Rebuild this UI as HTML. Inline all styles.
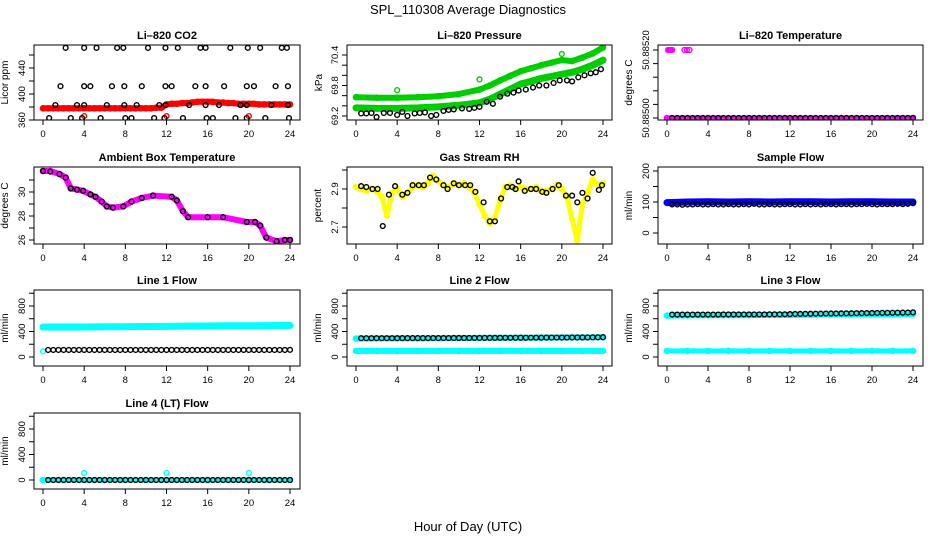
<!DOCTYPE html>
<html><head><meta charset="utf-8">
<style>
html,body{margin:0;padding:0;background:#fff;}
svg{display:block;font-family:"Liberation Sans",sans-serif;}
</style></head>
<body>
<svg id="chart" width="936" height="540" viewBox="0 0 936 540" xmlns="http://www.w3.org/2000/svg">
<rect x="0" y="0" width="936" height="540" fill="#fff"/>
<text x="468" y="14" text-anchor="middle" font-size="13">SPL_110308  Average Diagnostics</text>
<text x="468" y="531" text-anchor="middle" font-size="13">Hour of Day (UTC)</text>
</svg>
<script>
// ---------- data ----------
const xTicks=[0,4,8,12,16,20,24];
const halfHours=[0,0.5,1,1.5,2,2.5,3,3.5,4,4.5,5,5.5,6,6.5,7,7.5,8,8.5,9,9.5,10,10.5,11,11.5,12,12.5,13,13.5,14,14.5,15,15.5,16,16.5,17,17.5,18,18.5,19,19.5,20,20.5,21,21.5,22,22.5,23,23.5,24];
const circHours=[0.5,1,1.5,2,2.5,3,3.5,4,4.5,5,5.5,6,6.5,7,7.5,8,8.5,9,9.5,10,10.5,11,11.5,12,12.5,13,13.5,14,14.5,15,15.5,16,16.5,17,17.5,18,18.5,19,19.5,20,20.5,21,21.5,22,22.5,23,23.5,24];
const twoHours=[0,2,4,6,8,10,12,14,16,18,20,22,24];

// CO2
const co2Levels=[471,412,383,363];
const co2Hours0=[2.2,4.0,5.2,7.2,7.8,10.2,11.9,13.1,15.3,15.8,18.2,19.9,21.1,23.2,23.7];
const co2Hours1=[1.7,4.0,4.6,6.7,7.9,9.6,11.9,12.5,14.8,15.8,17.6,19.8,20.5,22.6,23.8];
const co2Hours2=[1.2,3.3,4.0,6.2,7.9,9.1,11.3,11.9,14.2,15.8,17.1,19.2,19.8,22.2,23.8];
const co2Hours3=[0.6,2.7,3.8,5.6,8.0,8.6,10.8,11.8,13.6,15.9,16.5,18.7,19.8,21.6,23.9];
const co2Red=[378,378,378,378,378,378,378,378,378,378,378,378,378,378,378,378,378,378,378,378,378,378,379,379,384,385,385,386,386,387,388,388,388,388,387,387,386,386,385,385,385,385,384,384,384,384,384,384,384];
const co2RedOutHours=[4,12,20];
const co2RedOutVals=[366,366,366];

// Pressure
const presHours=[0,2,4,6,8,10,12,13,14,15,16,17,18,19,20,21,22,23,24];
const presUpper=[69.57,69.56,69.56,69.57,69.59,69.63,69.72,69.8,69.9,69.99,70.08,70.14,70.2,70.25,70.3,70.28,70.35,70.43,70.55];
const presLower=[69.36,69.35,69.35,69.36,69.38,69.41,69.46,69.53,69.63,69.73,69.83,69.88,69.94,69.98,70.02,70.06,70.12,70.2,70.3];
const presBlackHours=[0.5,1,1.5,2,2.7,3.3,4,4.5,5,5.7,6.2,6.7,7.3,7.8,8.5,9,9.5,10.3,11,11.5,12,12.7,13.3,14,14.7,15.3,15.8,16.5,17.2,17.8,18.5,19.2,19.8,20.5,21,21.6,22.2,22.8,23.3,23.8];
const presBlack=[69.25,69.25,69.26,69.18,69.26,69.26,69.22,69.28,69.2,69.25,69.26,69.27,69.2,69.22,69.3,69.32,69.33,69.35,69.34,69.36,69.38,69.48,69.44,69.58,69.64,69.66,69.7,69.72,69.76,69.8,69.8,69.85,69.9,69.9,69.88,69.96,70.0,70.04,70.06,70.12];
const presGreenOutHours=[4,12,20];
const presGreenOutVals=[69.71,69.92,70.42];

// Li-820 temperature
const tempBase=[50.885,50.885,50.885,50.885,50.885,50.885,50.885,50.885,50.885,50.885,50.885,50.885,50.885,50.885,50.885,50.885,50.885,50.885,50.885,50.885,50.885,50.885,50.885,50.885,50.885,50.885,50.885,50.885,50.885,50.885,50.885,50.885,50.885,50.885,50.885,50.885,50.885,50.885,50.885,50.885,50.885,50.885,50.885,50.885,50.885,50.885,50.885,50.885];
const tempOutHours=[0.1,0.2,0.3,0.4,0.5,1.7,1.95,2.2];
const tempOutVals=[50.8852,50.8852,50.8852,50.8852,50.8852,50.8852,50.8852,50.8852];

// Ambient box temperature
const ambHours=[0,0.7,1.6,2.2,2.7,3.3,3.9,4.6,5.1,5.7,6.2,6.8,7.8,8.6,9.6,10.7,12.5,13.0,13.6,14.1,16.0,17.5,19.8,20.6,21.1,21.7,22.7,23.5,24];
const ambVals=[31.75,31.75,31.5,31.2,30.3,30.2,30.1,29.8,29.6,29.2,28.8,28.7,28.8,29.2,29.5,29.7,29.6,29.3,28.4,27.9,27.9,27.9,27.5,27.5,27.2,26.2,25.9,26.0,26.0];
const ambBlack=[31.75,31.7,31.5,31.2,30.3,30.2,30.1,29.8,29.6,29.2,28.8,28.7,28.8,29.2,29.5,29.7,29.6,29.3,28.4,27.9,27.9,27.9,27.5,27.5,27.2,26.2,25.9,26.0,26.0];

// Gas stream RH
const rhYellow=[2.91,2.9,2.89,2.9,2.89,2.86,2.76,2.88,2.9,2.86,2.88,2.91,2.92,2.91,2.93,2.97,2.94,2.92,2.91,2.93,2.92,2.93,2.91,2.88,2.82,2.76,2.72,2.75,2.84,2.91,2.92,2.9,2.91,2.9,2.9,2.91,2.89,2.89,2.9,2.92,2.9,2.86,2.74,2.63,2.82,2.88,2.95,2.92,2.93];
const rhBlackHours=[0.5,1.0,1.6,2.1,2.6,3.2,3.8,4.5,5.0,5.5,6.1,6.6,7.2,7.8,8.5,8.9,9.5,10.0,10.6,11.1,11.6,12.4,13.0,13.5,14.1,14.7,15.2,15.5,15.8,16.4,17.0,17.5,18.1,18.5,19.1,19.7,20.4,21.0,21.5,22.0,22.5,23.0,23.6,23.9];
const rhBlack=[2.915,2.91,2.9,2.9,2.705,2.87,2.915,2.87,2.88,2.92,2.92,2.92,2.96,2.95,2.92,2.9,2.93,2.92,2.92,2.92,2.885,2.83,2.73,2.73,2.85,2.91,2.91,2.9,2.94,2.89,2.9,2.9,2.885,2.88,2.9,2.92,2.865,2.865,2.83,2.88,2.85,2.985,2.895,2.92];

// Sample flow
const sampleBlue=[98,100,101,100,101,100,101,101,100,101,101,100,100];
const sampleBlack=[92,92,91,92,92,93,92,92,93,92,92,93,92,92,93,92,94,92,92,93,92,92,93,93,92,92,93,92,93,92,93,93,92,93,93,92,93,93,94,93,92,93,93,93,94,93,94,96];

// Line flows
const line1Cyan=[470,470,470,475,475,478,480,485,487,490,490,493,495];
const line1Black=[110,110,110,110,110,110,110,110,110,110,110,110,110,110,110,110,110,110,110,110,110,110,110,110,110,110,110,110,110,110,110,110,110,110,110,110,110,110,110,110,110,110,110,110,110,110,110,112];
const line2CyanHi=[290,292,293,295,296,298,300,301,303,305,306,308,310];
const line2CyanLo=[95,95,95,95,95,95,95,95,95,95,95,95,95];
const line2Black=[295,295,295,295,295,295,295,295,296,296,296,296,296,296,297,297,297,297,298,298,298,298,299,299,300,300,300,300,301,301,302,302,302,303,303,303,304,304,305,305,305,306,306,307,307,308,308,310];
const line3CyanHi=[650,652,655,656,658,660,661,663,666,668,670,672,675];
const line3CyanLo=[95,95,95,95,95,95,95,95,95,95,95,95,95];
const line3Black=[665,665,665,665,665,666,666,666,666,666,667,667,667,667,668,668,668,668,668,669,669,669,670,672,675,676,677,678,679,680,681,682,683,684,685,686,687,688,689,690,691,692,693,694,695,696,697,700];
const line4Cyan=[0,0,0,0,0,0,0,0,0,0,0,0,0];
const line4Black=[0,0,0,0,0,0,0,0,0,0,0,0,0,0,0,0,0,0,0,0,0,0,0,0,0,0,0,0,0,0,0,0,0,0,0,0,0,0,0,0,0,0,0,0,0,0,0,0];
const line4OutHours=[4,12,20];
const line4OutVals=[110,110,110];

// ---------- drawing ----------
const NS='http://www.w3.org/2000/svg';
const svg=document.getElementById('chart');
function el(tag,attrs,parent){const e=document.createElementNS(NS,tag);for(const k in attrs)e.setAttribute(k,attrs[k]);(parent||svg).appendChild(e);return e;}
function lin(v1,p1,v2,p2){return v=>p1+(v-v1)*(p2-p1)/(v2-v1);}

const COLS=[{l:34,r:300,x0:43,x24:290},{l:347,r:612,x0:356,x24:603},{l:658,r:923,x0:667,x24:913}];
const ROWS=[{t:45,b:120},{t:167,b:244},{t:290,b:366},{t:413,b:489}];

function panel(name,title,ylab,col,row,yv1,yp1,yv2,yp2,yTicks,yLabels,fmt){
  const c=COLS[col],r=ROWS[row];
  const g=el('g',{});
  
  
  const X=lin(0,c.x0,24,c.x24), Y=lin(yv1,yp1,yv2,yp2);
  const tt=el('text',{x:(c.l+c.r)/2,y:r.t-6,'text-anchor':'middle','font-size':'11','font-weight':'bold'},g);
  tt.textContent=title;
  
  
  const plot=el('g',{},g);
  
  
  const xa=el('g',{},g);
  
  
  el('line',{x1:X(xTicks[0]),x2:X(xTicks[xTicks.length-1]),y1:r.b,y2:r.b,stroke:'#000'},xa);
  xTicks.forEach(v=>{
    el('line',{x1:X(v),x2:X(v),y1:r.b,y2:r.b+5,stroke:'#000'},xa);
    const t=el('text',{x:X(v),y:r.b+17,'text-anchor':'middle','font-size':'9.5'},xa);
    t.textContent=v;
    
    
  });
  const ya=el('g',{},g);
  
  
  yTicks.forEach(v=>{
    el('line',{x1:c.l-5,x2:c.l,y1:Y(v),y2:Y(v),stroke:'#000'},ya);
  });
  yLabels.forEach(v=>{
    const yy=Y(v), xx=c.l-9;
    const t=el('text',{x:xx,y:yy,'text-anchor':'middle','font-size':'9.5',transform:`rotate(-90 ${xx} ${yy})`},ya);
    t.textContent=fmt?fmt(v):v;
    
    
  });
  const lx=c.l-(ylab.off||24), ly=(r.t+r.b)/2;
  const yt=el('text',{x:lx,y:ly,'text-anchor':'middle','font-size':'10',transform:`rotate(-90 ${lx} ${ly})`},g);
  yt.textContent=ylab.text;
  
  
  const clip='clip-'+name;
  const cp=el('clipPath',{id:clip},g);
  el('rect',{x:c.l,y:r.t,width:c.r-c.l,height:r.b-r.t},cp);
  const data=el('g',{'clip-path':`url(#${clip})`},plot);
  const box=el('rect',{x:c.l,y:r.t,width:c.r-c.l,height:r.b-r.t,fill:'none',stroke:'#000','stroke-width':'1'},g);
  
  
  return {X,Y,g:data};
}
function band(p,hours,vals,color,w,nm){
  const d=hours.map((h,i)=>(i?'L':'M')+p.X(h).toFixed(1)+' '+p.Y(vals[i]).toFixed(1)).join(' ');
  const e=el('path',{d,fill:'none',stroke:color,'stroke-width':w,'stroke-linejoin':'round','stroke-linecap':'round'},p.g);
  
  
  hours.forEach((h,i)=>{
    const c=el('circle',{cx:p.X(h),cy:p.Y(vals[i]),r:2.6,fill:'none',stroke:color,'stroke-width':1.4},p.g);
    
    
  });
}
function pts(p,hours,vals,color,nm,rad){
  hours.forEach((h,i)=>{
    const c=el('circle',{cx:p.X(h),cy:p.Y(vals[i]),r:rad||2.4,fill:'none',stroke:color,'stroke-width':1.4},p.g);
    
    
  });
}

// CO2
let p=panel('co2','Li\u2013820 CO2',{text:'Licor ppm',off:26},0,0,360,120,400,94,[360,380,400,420,440,460],[360,400,440]);
band(p,halfHours,co2Red,'#ff0000',6,'co2-red-series');
pts(p,co2RedOutHours,co2RedOutVals,'#ff0000','co2-red-outlier');
pts(p,co2Hours0,co2Hours0.map(()=>co2Levels[0]),'#000','co2-black-point');
pts(p,co2Hours1,co2Hours1.map(()=>co2Levels[1]),'#000','co2-black-point');
pts(p,co2Hours2,co2Hours2.map(()=>co2Levels[2]),'#000','co2-black-point');
pts(p,co2Hours3,co2Hours3.map(()=>co2Levels[3]),'#000','co2-black-point');

// Pressure
p=panel('pressure','Li\u2013820 Pressure',{text:'kPa',off:25},1,0,69.2,116,70.4,55,[69.2,69.4,69.6,69.8,70.0,70.2,70.4],[69.2,69.8,70.4],v=>v.toFixed(1));
band(p,presHours,presUpper,'#00cd00',6,'pressure-upper-band');
band(p,presHours,presLower,'#00cd00',7,'pressure-lower-band');
pts(p,presGreenOutHours,presGreenOutVals,'#00cd00','pressure-green-outlier');
pts(p,presBlackHours,presBlack,'#000','pressure-black-point');

// Li-820 temperature
p=panel('li820-temp','Li\u2013820 Temperature',{text:'degrees C',off:26},2,0,50.885,118,50.8852,50,[50.885,50.88504,50.88508,50.88512,50.88516,50.8852],[50.885,50.8852],v=>v.toFixed(5));
band(p,[0,24],[50.885,50.885],'#ff00ff',5,'li820-temp-magenta-band');
pts(p,tempOutHours,tempOutVals,'#ff00ff','li820-temp-outlier');
pts(p,circHours,tempBase,'#000','li820-temp-black-point');

// Ambient
p=panel('ambient','Ambient Box Temperature',{text:'degrees C',off:26},0,1,26,240,30,192,[26,27,28,29,30,31],[26,28,30]);
band(p,ambHours,ambVals,'#ff00ff',6,'ambient-magenta-series');
pts(p,ambHours,ambBlack,'#000','ambient-black-point');

// Gas RH
p=panel('gas-rh','Gas Stream RH',{text:'percent',off:26},1,1,2.7,227,2.9,189,[2.7,2.8,2.9,3.0],[2.7,2.9],v=>v.toFixed(1));
band(p,halfHours,rhYellow,'#ffff00',5,'gas-rh-yellow-series');
pts(p,rhBlackHours,rhBlack,'#000','gas-rh-black-point');

// Sample flow
p=panel('sample-flow','Sample Flow',{text:'ml/min',off:26},2,1,0,233,200,171,[0,50,100,150,200],[0,100,200]);
band(p,twoHours,sampleBlue,'#0000ff',7,'sample-flow-blue-band');
pts(p,circHours,sampleBlack,'#000','sample-flow-black-point');

// Lines
const lineTicks=[0,200,400,600,800,1000], lineLabels=[0,400,800];
p=panel('line1','Line 1 Flow',{text:'ml/min',off:26},0,2,0,357,800,306,lineTicks,lineLabels);
band(p,twoHours,line1Cyan,'#00ffff',7,'line1-cyan-band');
pts(p,[0],[90],'#00ffff','line1-cyan-start');
pts(p,circHours,line1Black,'#000','line1-black-point');

p=panel('line2','Line 2 Flow',{text:'ml/min',off:26},1,2,0,357,800,306,lineTicks,lineLabels);
band(p,twoHours,line2CyanHi,'#00ffff',6,'line2-cyan-upper');
band(p,twoHours,line2CyanLo,'#00ffff',6,'line2-cyan-lower');
pts(p,circHours,line2Black,'#000','line2-black-point');

p=panel('line3','Line 3 Flow',{text:'ml/min',off:26},2,2,0,357,800,306,lineTicks,lineLabels);
band(p,twoHours,line3CyanHi,'#00ffff',6,'line3-cyan-upper');
band(p,twoHours,line3CyanLo,'#00ffff',5,'line3-cyan-lower');
pts(p,circHours,line3Black,'#000','line3-black-point');

p=panel('line4','Line 4 (LT) Flow',{text:'ml/min',off:26},0,3,0,480,800,429,lineTicks,lineLabels);
band(p,twoHours,line4Cyan,'#00ffff',5,'line4-cyan-band');
pts(p,line4OutHours,line4OutVals,'#00ffff','line4-cyan-outlier');
pts(p,circHours,line4Black,'#000','line4-black-point');
</script>
</body></html>
